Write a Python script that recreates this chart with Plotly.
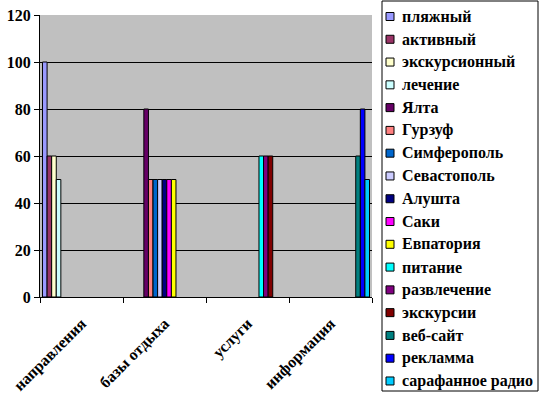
import plotly.graph_objects as go

categories = ["направления", "базы отдыха", "услуги", "информация"]

series_names = ["пляжный", "активный", "экскурсионный", "лечение",
                "Ялта", "Гурзуф", "Симферополь", "Севастополь", "Алушта", "Саки", "Евпатория",
                "питание", "развлечение", "экскурсии",
                "веб-сайт", "рекламма", "сарафанное радио"]

# value per series, in the category where it appears (None elsewhere)
napravleniya = [100, 60, 60, 50]
bazy = [80, 50, 50, 50, 50, 50, 50]
uslugi = [60, 60, 60]
informatsiya = [60, 80, 50]

colors = ["#9999FF", "#993366", "#FFFFCC", "#CCFFFF",
          "#660066", "#FF8080", "#0066CC", "#CCCCFF", "#000080", "#FF00FF", "#FFFF00",
          "#00FFFF", "#800080", "#800000",
          "#008080", "#0000FF", "#00CCFF"]

groups = [napravleniya, bazy, uslugi, informatsiya]

W, H = 539, 393
ML, MR, MT, MB = 40, 167, 15, 96
PW, PH = W - ML - MR, H - MT - MB


def px_x(px):
    return (px - ML) / PW


def px_y(py):
    return (H - MB - py) / PH


fig = go.Figure()
k = 0
for ci, vals in enumerate(groups):
    for v in vals:
        y = [None] * len(categories)
        y[ci] = v
        fig.add_trace(go.Bar(
            x=categories, y=y, name=series_names[k],
            marker=dict(color=colors[k], line=dict(color="black", width=1)),
            showlegend=False,
        ))
        k += 1

serif = "Liberation Serif, DejaVu Serif, serif"
fnt = dict(family=serif, size=16, color="black", weight="bold")
leg_fnt = dict(family=serif, size=16, color="black", weight="bold")

# legend box (drawn as shapes + annotations)
shapes = [dict(type="rect", xref="paper", yref="paper",
               x0=px_x(382), x1=px_x(538), y0=px_y(391), y1=px_y(1),
               line=dict(color="black", width=1), fillcolor="white", layer="above")]
annotations = []
y_first, step = 16.5, 22.78
for i, (name, col) in enumerate(zip(series_names, colors)):
    cy = y_first + i * step
    shapes.append(dict(type="rect", xref="paper", yref="paper",
                       x0=px_x(386), x1=px_x(394), y0=px_y(cy + 4), y1=px_y(cy - 4),
                       line=dict(color="black", width=1), fillcolor=col, layer="above"))
    annotations.append(dict(xref="paper", yref="paper", x=px_x(400), y=px_y(cy),
                            xanchor="left", yanchor="middle", text=name,
                            showarrow=False, font=leg_fnt))

fig.update_layout(
    width=W, height=H,
    margin=dict(l=ML, r=MR, t=MT, b=MB, autoexpand=False),
    paper_bgcolor="white",
    plot_bgcolor="#C0C0C0",
    barmode="group",
    bargap=0.06,
    bargroupgap=0,
    font=fnt,
    showlegend=False,
    shapes=shapes,
    annotations=annotations,
    xaxis=dict(
        tickangle=-45, ticks="outside", tickson="boundaries", ticklen=5,
        tickcolor="black", showline=True, linecolor="black", linewidth=1,
        showgrid=False, tickfont=fnt, automargin=False, ticklabelstandoff=10,
    ),
    yaxis=dict(
        range=[0, 120], dtick=20, ticks="outside", ticklen=5, tickcolor="black",
        showline=True, linecolor="black", linewidth=1,
        showgrid=True, gridcolor="black", gridwidth=1, zeroline=False,
        tickfont=fnt, automargin=False,
    ),
)

fig.write_html("out.html", config={"displayModeBar": False},
               post_script="document.body.style.margin='0';")
